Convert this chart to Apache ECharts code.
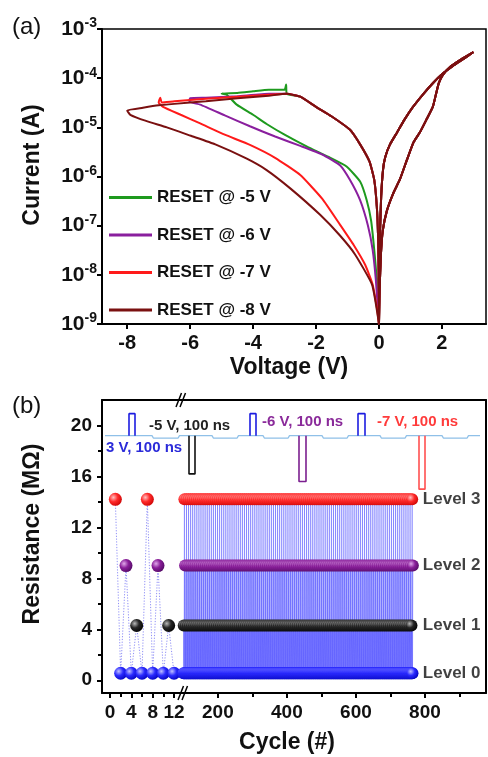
<!DOCTYPE html>
<html><head><meta charset="utf-8">
<script src="https://cdn.jsdelivr.net/npm/echarts@6/dist/echarts.min.js"></script>
<style>html,body{margin:0;padding:0;background:#fff}#c{width:488px;height:757px}</style>
</head><body><div id="c"></div>
<script>
const FONT = "'Liberation Sans', Arial, sans-serif";

// ---------- Panel (a): I-V loops [voltage (V), current (A)] ----------
const positiveSweep = [
 [0,1e-9],[0.02,5e-9],[0.06,2.5e-8],[0.12,7.9e-8],[0.25,2.0e-7],[0.45,4.5e-7],[0.67,8.9e-7],[0.89,2.2e-6],
 [1.1,5.0e-6],[1.3,7.9e-6],[1.5,1.4e-5],[1.71,2.6e-5],[1.82,5.0e-5],[1.9,7.9e-5],[2.03,1.17e-4],[2.3,1.78e-4],
 [2.6,2.4e-4],[3.0,3.4e-4],
 [2.7,2.5e-4],[2.35,1.78e-4],[2.0,1.2e-4],[1.71,7.9e-5],[1.4,4.7e-5],[1.08,2.6e-5],[0.8,1.4e-5],[0.57,7.8e-6],
 [0.35,4.5e-6],[0.2,2.5e-6],[0.13,1.4e-6],[0.07,4.0e-7],[0.03,6.3e-8],[0.01,1e-8],[0,1e-9]
];
const lrsArc = [
 [-0.01,1e-8],[-0.03,6.3e-8],[-0.07,2.5e-7],[-0.15,8.5e-7],[-0.3,2.0e-6],[-0.6,4.5e-6],[-0.92,8.9e-6],
 [-1.5,1.66e-5],[-2.0,2.6e-5],[-2.5,4.2e-5],[-2.93,4.8e-5]
];
const reset5V = [
 [-2.95,7.4e-5],[-3.0,5.8e-5],[-3.5,5.8e-5],[-4.0,5.4e-5],[-4.5,5.0e-5],[-5.0,4.9e-5],[-4.84,4.6e-5],
 [-4.52,2.9e-5],[-4.0,1.8e-5],[-3.57,1.17e-5],[-3.0,7.1e-6],[-2.3,4.1e-6],[-1.6,2.5e-6],[-1.03,1.6e-6],
 [-0.6,7.9e-7],[-0.39,3.3e-7],[-0.25,1.26e-7],[-0.15,3.2e-8],[-0.07,7.9e-9],[0,1e-9]
];
const reset6V = [
 [-3.5,4.8e-5],[-4.5,4.3e-5],[-5.5,4.0e-5],[-6.0,3.9e-5],[-6.02,3.3e-5],[-5.68,2.9e-5],[-4.9,1.75e-5],
 [-4.1,1.05e-5],[-3.3,6.5e-6],[-2.5,4.2e-6],[-1.8,2.8e-6],[-1.24,1.7e-6],[-0.92,8.5e-7],[-0.6,3.3e-7],
 [-0.35,1e-7],[-0.2,3.2e-8],[-0.1,7.9e-9],[0,1e-9]
];
const reset7V = [
 [-3.5,4.6e-5],[-4.5,4.2e-5],[-5.5,3.8e-5],[-6.5,3.4e-5],[-6.9,3.2e-5],[-6.95,4.0e-5],[-7.0,3.2e-5],
 [-6.86,2.6e-5],[-6.3,1.8e-5],[-5.68,1.2e-5],[-4.9,7.1e-6],[-4.1,4.4e-6],[-3.3,2.4e-6],[-2.5,1.07e-6],
 [-1.8,3.5e-7],[-1.24,1.05e-7],[-0.8,4e-8],[-0.44,1.6e-8],[-0.2,6.3e-9],[-0.06,2e-9],[0,1e-9]
];
const reset8V = [
 [-3.5,4.4e-5],[-4.5,3.9e-5],[-5.5,3.4e-5],[-6.5,3.0e-5],[-7.0,2.8e-5],[-7.5,2.5e-5],[-8.0,2.2e-5],
 [-7.9,1.8e-5],[-7.4,1.35e-5],[-6.74,1.0e-5],[-6.0,6.8e-6],[-5.2,4.5e-6],[-4.2,2.3e-6],[-3.57,1.35e-6],
 [-2.8,5.6e-7],[-1.87,1.66e-7],[-1.24,6.3e-8],[-0.76,2.6e-8],[-0.22,6.3e-9],[0,1e-9]
];
const resetNames = ['RESET @ -5 V','RESET @ -6 V','RESET @ -7 V','RESET @ -8 V'];
const resetColors = ['#1e9a1e','#8a1f9e','#ff1a1a','#7a1010'];
const voltageTicks = [-8,-6,-4,-2,0,2];

// ---------- Panel (b): multilevel cycling ----------
const earlyCycles = [1,2,3,4,5,6,7,8,9,10,11,12];
const earlyResistance = [14.2,0.55,9.0,0.55,4.3,0.55,14.2,0.55,9.0,0.55,4.3,0.55];
const lateCycleFirst = 100, lateCycleLast = 765;   // long run continues the same programming sequence
const levelNames = ['Level 3','Level 2','Level 1','Level 0'];
const levelResistance = [14.2,9.0,4.3,0.55];
const levelColors = [['#ffc0c0','#ff2a2a','#c80000'],['#e0a8ea','#8a1f9a','#4e0860'],['#b8b8b8','#262626','#000000'],['#c0c0ff','#2a2aff','#0000b8']];
const resistanceTicks = [0,4,8,12,16,20], resistanceMinor = [2,6,10,14,18];
const earlyTicks = [0,4,8,12], earlyMinor = [2,6,10];
const lateTicks = [200,400,600,800], lateMinor = [300,500,700,900];

// ---------- Pulse schematic (inset, schematic time units) ----------
const pulseBaseline = [[3,19.2],[50,19.2],[51.5,19.0],[76,19.0],[77.5,19.2],[110,19.2],[111.5,19.0],[135,19.0],
 [136.5,19.2],[161,19.2],[162.5,19.0],[186,19.0],[187.5,19.2],[220,19.2],[221.5,19.0],[245,19.0],[246.5,19.2],
 [278,19.2],[279.5,19.0],[303,19.0],[304.5,19.2],[340,19.2],[341.5,19.0],[365,19.0],[366.5,19.2],[378,19.2]];
const pulseStart = [27,87,148,197,256,317];
const pulseEnd   = [33,93,154,204,263,323];
const pulsePeak  = [20.93,16.2,20.93,15.6,20.93,15.0];
const pulseColor = ['#1c1ce0','#111111','#1c1ce0','#7b1f8f','#1c1ce0','#ff5050'];
const pulseTexts = [
 {t:'3 V, 100 ns', c:'#2b2bd9', x:106, y:448},
 {t:'-5 V, 100 ns', c:'#222222', x:149, y:426},
 {t:'-6 V, 100 ns', c:'#8a2a9a', x:262, y:422},
 {t:'-7 V, 100 ns', c:'#ff3b3b', x:377, y:422}
];

// ---------- build ----------
const lateSeq = [];
for (let c = lateCycleFirst; c <= lateCycleLast; c++) lateSeq.push([c, earlyResistance[(c - 1) % earlyResistance.length]]);
const earlySeq = earlyCycles.map((c, i) => [c, earlyResistance[i]]);

function ball(cs){ return {type:'radial', x:0.35, y:0.35, r:0.75, colorStops:[{offset:0,color:cs[0]},{offset:0.45,color:cs[1]},{offset:1,color:cs[2]}]}; }

const chart = echarts.init(document.getElementById('c'), null, {renderer:'canvas'});
const tickLbl = {fontFamily:FONT, fontWeight:'bold', color:'#111'};
const blackLine = {show:true, onZero:false, lineStyle:{color:'#000', width:2}};
const noLine = {show:false, onZero:false};

const xAxes = [
 {gridIndex:0, type:'value', min:-8.8, max:3.4, axisLine:blackLine, splitLine:{show:false},
  axisTick:{customValues:voltageTicks, length:5, lineStyle:{width:2,color:'#000'}},
  axisLabel:Object.assign({customValues:voltageTicks, fontSize:20, margin:9}, tickLbl)},
 {gridIndex:1, type:'value', position:'bottom', min:-1.5, max:13.5, axisLine:blackLine, splitLine:{show:false},
  axisTick:{customValues:earlyTicks, length:5, lineStyle:{width:2,color:'#000'}},
  axisLabel:Object.assign({customValues:earlyTicks, fontSize:19, margin:10}, tickLbl)},
 {gridIndex:1, type:'value', position:'bottom', min:-1.5, max:13.5, axisLine:noLine, splitLine:{show:false},
  axisTick:{customValues:earlyMinor, length:4, lineStyle:{width:2,color:'#000'}}, axisLabel:{show:false}},
 {gridIndex:1, type:'value', position:'top', min:-1.5, max:13.5, axisLine:blackLine, splitLine:{show:false}, axisTick:{show:false}, axisLabel:{show:false}},
 {gridIndex:2, type:'value', position:'bottom', min:96, max:977, axisLine:blackLine, splitLine:{show:false},
  axisTick:{customValues:lateTicks, length:5, lineStyle:{width:2,color:'#000'}},
  axisLabel:Object.assign({customValues:lateTicks, fontSize:19, margin:10}, tickLbl)},
 {gridIndex:2, type:'value', position:'bottom', min:96, max:977, axisLine:noLine, splitLine:{show:false},
  axisTick:{customValues:lateMinor, length:4, lineStyle:{width:2,color:'#000'}}, axisLabel:{show:false}},
 {gridIndex:2, type:'value', position:'top', min:96, max:977, axisLine:blackLine, splitLine:{show:false}, axisTick:{show:false}, axisLabel:{show:false}},
 {gridIndex:3, type:'value', min:0, max:384, show:false}
];
const yAxes = [
 {gridIndex:0, type:'log', logBase:10, min:1e-9, max:1e-3, splitNumber:6, axisLine:blackLine, splitLine:{show:false}, minorTick:{show:false},
  axisTick:{length:5, lineStyle:{width:2,color:'#000'}},
  axisLabel:{margin:5, formatter:v => '{b|10}{s|' + Math.round(Math.log10(v)) + '}',
   rich:{b:{fontSize:21, fontWeight:'bold', fontFamily:FONT, color:'#111'}, s:{fontSize:14, fontWeight:'bold', fontFamily:FONT, color:'#111', padding:[0,0,11,0]}}}},
 {gridIndex:1, type:'value', position:'left', min:-1, max:22, axisLine:blackLine, splitLine:{show:false},
  axisTick:{customValues:resistanceTicks, length:5, lineStyle:{width:2,color:'#000'}},
  axisLabel:Object.assign({customValues:resistanceTicks, fontSize:19, margin:10}, tickLbl)},
 {gridIndex:1, type:'value', position:'left', min:-1, max:22, axisLine:noLine, splitLine:{show:false},
  axisTick:{customValues:resistanceMinor, length:4, lineStyle:{width:2,color:'#000'}}, axisLabel:{show:false}},
 {gridIndex:2, type:'value', position:'right', min:-1, max:22, axisLine:blackLine, splitLine:{show:false}, axisTick:{show:false}, axisLabel:{show:false}},
 {gridIndex:3, type:'value', min:-1, max:22, show:false}
];

const series = [];
const negParts = [reset5V, reset6V, reset7V, reset8V];
const drawOrder = [0,1,3,2];
drawOrder.forEach(i => {
  series.push({name:resetNames[i], type:'line', xAxisIndex:0, yAxisIndex:0, showSymbol:false, symbol:'none', smooth:0.15,
    color:resetColors[i], lineStyle:{color:resetColors[i], width:2}, data:positiveSweep.concat(lrsArc, negParts[i]), z:3+i});
});
series.push({name:resetNames[3], type:'line', xAxisIndex:0, yAxisIndex:0, showSymbol:false, symbol:'none', smooth:0.15,
  color:resetColors[3], lineStyle:{color:resetColors[3], width:2}, data:positiveSweep, z:8});

series.push({type:'line', xAxisIndex:1, yAxisIndex:1, data:earlySeq, showSymbol:false, symbol:'none',
  lineStyle:{color:'rgba(70,70,240,0.6)', width:1, type:[1.2,1.6]}, z:2});
series.push({type:'line', xAxisIndex:4, yAxisIndex:3, data:lateSeq, showSymbol:false, symbol:'none',
  lineStyle:{color:'rgba(45,45,255,0.45)', width:0.8}, z:2});
levelResistance.forEach((lv, k) => {
  series.push({type:'scatter', xAxisIndex:1, yAxisIndex:1, symbolSize:13, data:earlySeq.filter(p => p[1] === lv),
    itemStyle:{color:ball(levelColors[k]), opacity:1}, z:4});
  series.push({type:'scatter', xAxisIndex:4, yAxisIndex:3, symbolSize:12, data:lateSeq.filter(p => p[1] === lv),
    itemStyle:{color:ball(levelColors[k]), opacity:1}, z:4});
});
series.push({type:'scatter', xAxisIndex:4, yAxisIndex:3, symbolSize:12, itemStyle:{color:'rgba(0,0,0,0)'}, z:5,
  data:levelResistance.map((lv, k) => ({value:[lateCycleLast, lv], name:levelNames[k]})),
  label:{show:true, position:'right', distance:4, formatter:p => p.name, fontFamily:FONT, fontWeight:'bold', fontSize:17, color:'#111'}});

series.push({type:'line', xAxisIndex:7, yAxisIndex:4, data:pulseBaseline, showSymbol:false, symbol:'none',
  lineStyle:{color:'#8fc0e8', width:1.3}, z:6});
pulseStart.forEach((s, i) => {
  series.push({type:'line', xAxisIndex:7, yAxisIndex:4, showSymbol:false, symbol:'none', z:7,
    lineStyle:{color:pulseColor[i], width:1.6},
    data:[[s,19.2],[s,pulsePeak[i]],[pulseEnd[i],pulsePeak[i]],[pulseEnd[i],19.2]]});
});

function breakMark(cx, cy){
  return {type:'group', z:100, children:[
    {type:'polygon', shape:{points:[[cx-5,cy+7],[cx+0.5,cy-7],[cx+4.5,cy-7],[cx-1,cy+7]]}, style:{fill:'#fff'}},
    {type:'line', shape:{x1:cx-5,y1:cy+7,x2:cx+0.5,y2:cy-7}, style:{stroke:'#000', lineWidth:1.5}},
    {type:'line', shape:{x1:cx-1,y1:cy+7,x2:cx+4.5,y2:cy-7}, style:{stroke:'#000', lineWidth:1.5}}
  ]};
}
const graphics = [
  {type:'text', left:12, top:15, z:100, style:{text:'(a)', font:'24px ' + FONT, fill:'#111'}},
  {type:'text', left:12, top:394, z:100, style:{text:'(b)', font:'24px ' + FONT, fill:'#111'}},
  {type:'text', x:33, y:165, rotation:Math.PI/2, z:100, style:{text:'Current (A)', font:'bold 23px ' + FONT, fill:'#111', align:'center', verticalAlign:'middle'}},
  {type:'text', x:33, y:534, rotation:Math.PI/2, z:100, style:{text:'Resistance (M\u03A9)', font:'bold 23px ' + FONT, fill:'#111', align:'center', verticalAlign:'middle'}},
  {type:'text', x:289, y:368, z:100, style:{text:'Voltage (V)', font:'bold 23px ' + FONT, fill:'#111', align:'center', verticalAlign:'middle'}},
  {type:'text', x:287, y:743, z:100, style:{text:'Cycle (#)', font:'bold 23px ' + FONT, fill:'#111', align:'center', verticalAlign:'middle'}},
  breakMark(181, 400), breakMark(183, 693)
];
pulseTexts.forEach(p => graphics.push({type:'text', x:p.x, y:p.y, z:100,
  style:{text:p.t, font:'bold 15px ' + FONT, fill:p.c, align:'left', verticalAlign:'middle'}}));

chart.setOption({
  animation:false,
  backgroundColor:'#fff',
  grid:[
    {left:102, top:29, width:384, height:295, show:true, borderColor:'#000', borderWidth:1.5, backgroundColor:'transparent'},
    {left:102, top:400, width:80, height:293},
    {left:182, top:400, width:304, height:293},
    {left:102, top:400, width:384, height:293}
  ],
  legend:{data:resetNames, orient:'vertical', left:104, top:184, itemWidth:43, itemHeight:3, icon:'rect', itemGap:20.5,
    textStyle:{fontFamily:FONT, fontWeight:'bold', fontSize:17, lineHeight:17, color:'#111'}, selectedMode:false},
  xAxis:xAxes, yAxis:yAxes, series:series, graphic:graphics
});
</script></body></html>
